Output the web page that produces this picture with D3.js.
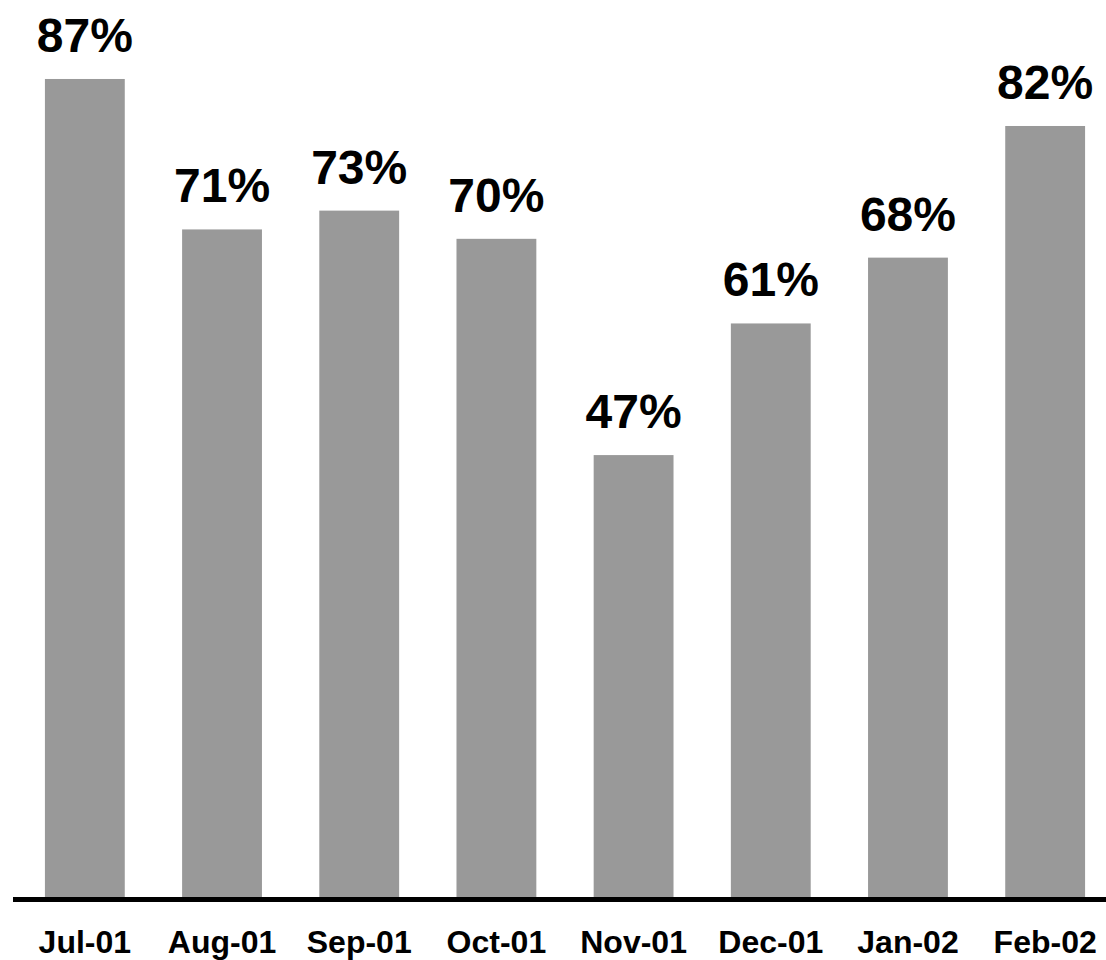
<!DOCTYPE html>
<html>
<head>
<meta charset="utf-8">
<script src="https://cdn.jsdelivr.net/npm/d3@7"></script>
<style>
  html, body { margin: 0; padding: 0; background: #fff; }
  svg { display: block; font-family: Arial, "Liberation Sans", Helvetica, sans-serif; }
</style>
</head>
<body>
<svg id="chart" width="1106" height="960"></svg>
<script>
const months = ['Jul-01', 'Aug-01', 'Sep-01', 'Oct-01', 'Nov-01', 'Dec-01', 'Jan-02', 'Feb-02'];
const values = [87, 71, 73, 70, 47, 61, 68, 82];
const valueLabels = ['87%', '71%', '73%', '70%', '47%', '61%', '68%', '82%'];

const width = 1106;
const baseY = 897;

const svg = d3.select('#chart');

const x = d3.scaleBand()
    .domain(months)
    .range([16.25, 1113.75])
    .paddingInner(0.418)
    .paddingOuter(0.209);

const y = d3.scaleLinear()
    .domain([0, 95.4])
    .range([baseY, 0]);

// bars
svg.selectAll('rect.bar')
    .data(values)
    .join('rect')
    .attr('class', 'bar')
    .attr('x', (d, i) => x(months[i]))
    .attr('y', d => y(d))
    .attr('width', x.bandwidth())
    .attr('height', d => baseY - y(d))
    .attr('fill', '#999999');

// value labels
svg.selectAll('text.val')
    .data(values)
    .join('text')
    .attr('class', 'val')
    .attr('x', (d, i) => x(months[i]) + x.bandwidth() / 2)
    .attr('y', d => y(d) - 27)
    .attr('text-anchor', 'middle')
    .attr('font-size', 48)
    .attr('font-weight', 'bold')
    .attr('fill', '#000')
    .text((d, i) => valueLabels[i]);

// baseline
svg.append('line')
    .attr('x1', 13)
    .attr('x2', width)
    .attr('y1', baseY + 2.5)
    .attr('y2', baseY + 2.5)
    .attr('stroke', '#000')
    .attr('stroke-width', 5);

// category labels
const xAxis = d3.axisBottom(x).tickSize(0).tickPadding(0);
const gx = svg.append('g')
    .attr('transform', `translate(0,${baseY})`)
    .call(xAxis);
gx.select('.domain').remove();
gx.selectAll('text')
    .attr('y', 56)
    .attr('dy', 0)
    .attr('font-size', 32)
    .attr('font-weight', 'bold')
    .attr('font-family', 'Arial, "Liberation Sans", Helvetica, sans-serif')
    .attr('fill', '#000');
</script>
</body>
</html>
